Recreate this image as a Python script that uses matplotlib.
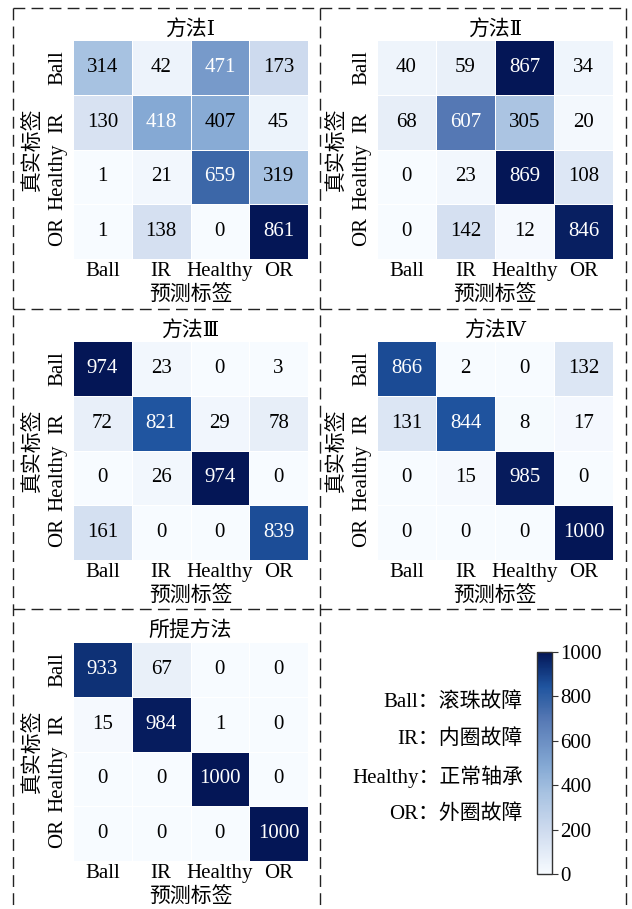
import numpy as np
import matplotlib
matplotlib.use("Agg")
import matplotlib.pyplot as plt
from matplotlib.colors import LinearSegmentedColormap, Normalize
from matplotlib.lines import Line2D
from matplotlib.cm import ScalarMappable

plt.rcParams['font.family'] = ['Liberation Serif', 'DejaVu Serif', 'Noto Sans CJK SC']
plt.rcParams['lines.scale_dashes'] = False

# ---- data ----
class_labels = ['Ball', 'IR', 'Healthy', 'OR']
panel_titles = ['方法Ⅰ', '方法Ⅱ', '方法Ⅲ', '方法Ⅳ', '所提方法']
cm_method1 = [[314, 42, 471, 173], [130, 418, 407, 45], [1, 21, 659, 319], [1, 138, 0, 861]]
cm_method2 = [[40, 59, 867, 34], [68, 607, 305, 20], [0, 23, 869, 108], [0, 142, 12, 846]]
cm_method3 = [[974, 23, 0, 3], [72, 821, 29, 78], [0, 26, 974, 0], [161, 0, 0, 839]]
cm_method4 = [[866, 2, 0, 132], [131, 844, 8, 17], [0, 15, 985, 0], [0, 0, 0, 1000]]
cm_proposed = [[933, 67, 0, 0], [15, 984, 1, 0], [0, 0, 1000, 0], [0, 0, 0, 1000]]
legend_lines = ['Ball：滚珠故障', 'IR：内圈故障', 'Healthy：正常轴承', 'OR：外圈故障']
cbar_ticks = [0, 200, 400, 600, 800, 1000]

matrices = [cm_method1, cm_method2, cm_method3, cm_method4, cm_proposed]

# blue sequential colormap
anchors = [
    (0.00, (247, 251, 255)),
    (0.20, (205, 218, 238)),
    (0.365, (167, 194, 225)),
    (0.485, (133, 169, 212)),
    (0.70, (85, 120, 180)),
    (0.765, (60, 103, 168)),
    (0.843, (32, 85, 160)),
    (0.93, (15, 50, 120)),
    (1.00, (4, 22, 86)),
]
cmap = LinearSegmentedColormap.from_list(
    'blue_seq', [(t, tuple(c / 255 for c in rgb)) for t, rgb in anchors])

W, H = 632, 909
fig = plt.figure(figsize=(W / 100, H / 100), dpi=100)


def box(x0, y0, x1, y1):
    return [x0 / W, 1 - y1 / H, (x1 - x0) / W, (y1 - y0) / H]


col_x = [(73, 308), (377, 613)]
row_y = [(40, 259), (341, 560), (642, 861)]
FS = 15

for k, mat in enumerate(matrices):
    r, c = divmod(k, 2)
    x0, x1 = col_x[c]
    y0, y1 = row_y[r]
    ax = fig.add_axes(box(x0, y0, x1, y1))
    data = np.array(mat, dtype=float)
    vmax = data.max()
    n = data.shape[0]
    ax.pcolormesh(np.arange(n + 1), np.arange(n + 1), data, cmap=cmap,
                  vmin=0, vmax=vmax, edgecolors='white', linewidth=0.5)
    ax.set_xlim(0, n)
    ax.set_ylim(n, 0)
    for i in range(n):
        for j in range(n):
            v = data[i, j]
            color = 'white' if v / vmax > 0.48 else 'black'
            ax.text(j + 0.5, i + 0.5, f'{int(v)}', ha='center', va='center',
                    fontsize=FS, color=color)
    ax.set_xticks(np.arange(n) + 0.5)
    ax.set_yticks(np.arange(n) + 0.5)
    ax.set_xticklabels(class_labels, fontsize=FS)
    ax.set_yticklabels(class_labels, fontsize=FS, rotation=90, va='center')
    ax.tick_params(axis='x', length=0, pad=2)
    ax.tick_params(axis='y', length=0, pad=4)
    for s in ax.spines.values():
        s.set_visible(False)
    ax.set_title(panel_titles[k], fontsize=FS, pad=3)
    ax.set_xlabel('预测标签', fontsize=FS, labelpad=3)
    ax.set_ylabel('真实标签', fontsize=FS, labelpad=4)

# legend text for class abbreviations
for i, line in enumerate(legend_lines):
    fig.text(523 / W, 1 - (702 + i * 37.5) / H, line, ha='right', va='center',
             fontsize=FS)

# shared colour bar
cax = fig.add_axes(box(537, 652, 552, 874))
sm = ScalarMappable(norm=Normalize(0, 1000), cmap=cmap)
cb = fig.colorbar(sm, cax=cax, ticks=cbar_ticks)
cb.ax.tick_params(labelsize=FS, length=4, width=0.8, color='#333333', pad=2)
cb.outline.set_edgecolor('#333333')
cb.outline.set_linewidth(1.0)

# dashed panel frame
dash = dict(color='#222222', linewidth=1.0, linestyle=(0, (8.5, 4.5)))
lines = [
    ((13, 8), (626, 8)),
    ((13, 309), (626, 309)),
    ((13, 609), (626, 609)),
    ((13, 8), (13, 912)),
    ((626, 8), (626, 912)),
    ((320, 8), (320, 912)),
]
for (xa, ya), (xb, yb) in lines:
    fig.add_artist(Line2D([xa / W, xb / W], [1 - ya / H, 1 - yb / H], **dash))

fig.savefig('out.png', dpi=100)
